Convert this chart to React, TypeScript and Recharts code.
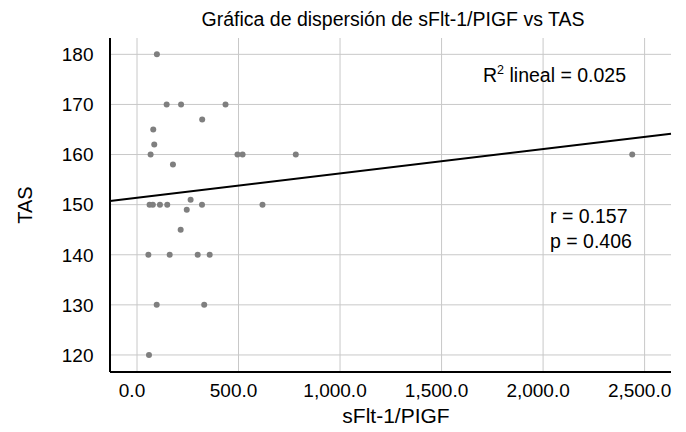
import React from "react";
import {
  ScatterChart,
  Scatter,
  XAxis,
  YAxis,
  CartesianGrid,
  ReferenceLine,
} from "recharts";

const xValues = [98, 146, 217, 436, 321, 80, 85, 67, 495, 520, 782, 177, 264, 62, 78, 113, 149, 245, 320, 618, 215, 56, 161, 299, 358, 97, 331, 59, 2439];
const yValues = [180, 170, 170, 170, 167, 165, 162, 160, 160, 160, 160, 158, 151, 150, 150, 150, 150, 149, 150, 150, 145, 140, 140, 140, 140, 130, 130, 120, 160];

const xTicks = [0, 500, 1000, 1500, 2000, 2500];
const yTicks = [120, 130, 140, 150, 160, 170, 180];
const xDomain = [-133, 2630];
const yDomain = [116.6, 183.26];

const fitStart = { x: -133, y: 150.74 };
const fitEnd = { x: 2630, y: 164.13 };

const title = "Gráfica de dispersión de sFlt-1/PIGF vs TAS";
const xLabel = "sFlt-1/PIGF";
const yLabel = "TAS";
const r2Text = " lineal = 0.025";
const rText = "r = 0.157";
const pText = "p = 0.406";

const points = xValues.map((x, i) => ({ x, y: yValues[i] }));

const FONT = '"Liberation Sans", Arial, Helvetica, sans-serif';

const fmtX = (v: number) =>
  v.toLocaleString("en-US", { minimumFractionDigits: 1, maximumFractionDigits: 1 });

const XTick = (props: any) => {
  const { x, y, payload } = props;
  return (
    <text x={x - 5} y={y + 25} textAnchor="middle" fontFamily={FONT} fontSize={19} fill="#000">
      {fmtX(payload.value)}
    </text>
  );
};

const YTick = (props: any) => {
  const { x, y, payload } = props;
  return (
    <text x={x - 16.5} y={y} dy="0.36em" textAnchor="end" fontFamily={FONT} fontSize={19} fill="#000">
      {payload.value}
    </text>
  );
};

export default function App() {
  return (
    <div style={{ position: "absolute", left: 0, top: 0, width: 686, height: 432, background: "#fff" }}>
      <ScatterChart
        width={686}
        height={432}
        margin={{ top: 38, right: 15, bottom: 0, left: 0 }}
      >
        <CartesianGrid stroke="#c8c8c8" strokeWidth={1} verticalValues={xTicks} horizontalValues={yTicks} />
        <XAxis
          type="number"
          dataKey="x"
          domain={xDomain}
          ticks={xTicks}
          allowDataOverflow
          height={60}
          tickLine={false}
          tickSize={0}
          tickMargin={0}
          axisLine={{ stroke: "#000", strokeWidth: 2 }}
          tick={<XTick />}
          interval={0}
        />
        <YAxis
          type="number"
          dataKey="y"
          domain={yDomain}
          ticks={yTicks}
          allowDataOverflow
          width={110}
          tickLine={false}
          tickSize={0}
          tickMargin={0}
          axisLine={{ stroke: "#000", strokeWidth: 2 }}
          tick={<YTick />}
          interval={0}
        />
        <ReferenceLine
          segment={[fitStart, fitEnd]}
          stroke="#000"
          strokeWidth={2}
          ifOverflow="visible"
        />
        <Scatter data={points} fill="#7f7f7f" isAnimationActive={false} shape={(p: any) => <circle cx={p.cx} cy={p.cy} r={3} fill="#7f7f7f" />} />
      </ScatterChart>
      <svg
        width={686}
        height={432}
        style={{ position: "absolute", left: 0, top: 0, pointerEvents: "none" }}
      >
        <text x={393} y={26} textAnchor="middle" fontFamily={FONT} fontSize={19.5} fill="#000">
          {title}
        </text>
        <text x={396} y={423} textAnchor="middle" fontFamily={FONT} fontSize={21} fill="#000">
          {xLabel}
        </text>
        <text
          x={32}
          y={205}
          textAnchor="middle"
          fontFamily={FONT}
          fontSize={20}
          fill="#000"
          transform="rotate(-90 32 205)"
        >
          {yLabel}
        </text>
        <text x={483} y={81.7} fontFamily={FONT} fontSize={19.5} fill="#000">
          R
          <tspan fontSize={12.5} dy={-7.5}>2</tspan>
          <tspan dy={7.5}>{r2Text}</tspan>
        </text>
        <text x={550} y={223.3} fontFamily={FONT} fontSize={19.5} fill="#000">
          {rText}
        </text>
        <text x={550} y={248.3} fontFamily={FONT} fontSize={19.5} fill="#000">
          {pText}
        </text>
      </svg>
    </div>
  );
}
